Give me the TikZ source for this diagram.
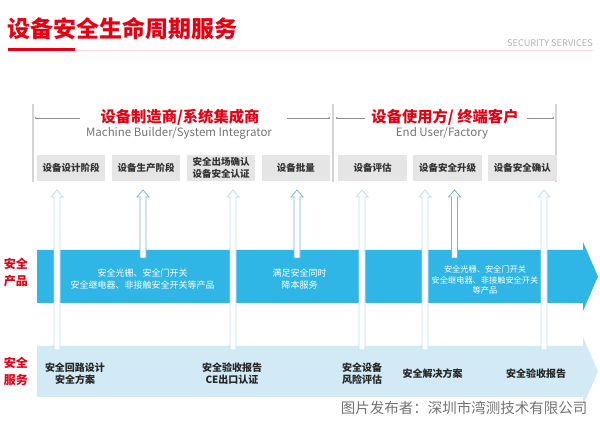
\documentclass[tikz,border=0pt]{standalone}
\usepackage{fontspec}
\setmainfont{Noto Sans CJK SC}
\usetikzlibrary{positioning,calc,arrows.meta}
\definecolor{secred}{HTML}{E60012}
\definecolor{bandblue}{HTML}{2FB6E7}
\definecolor{bandpale}{HTML}{D2EAF6}
\definecolor{boxgray}{HTML}{E5E5E5}
\definecolor{lightarr}{HTML}{BBDFF2}
\definecolor{darkarr}{HTML}{79B5DB}
\newcommand{\hollowup}[3]{\draw[draw=#1, fill=white, line width=0.8pt] let \p1=(#2), \p2=(#3) in
  (\x1-3pt,\y1) -- (\x1-3pt,\y2-7pt) -- (\x1-6pt,\y2-7pt) -- (\x1,\y2) -- (\x1+6pt,\y2-7pt) -- (\x1+3pt,\y2-7pt) -- (\x1+3pt,\y1) -- cycle;}

\begin{document}
\begin{tikzpicture}[
    x=1pt, y=1pt,
    node distance=6.2pt,
    every node/.style={inner sep=0pt, align=center},
    stage/.style={fill=boxgray, minimum width=68.3pt, minimum height=26pt, text=black!80, font=\bfseries\fontsize{9.5}{12}\selectfont},
    bandtext/.style={text=white, font=\fontsize{9}{12}\selectfont},
    servtext/.style={text=black!85, font=\bfseries\fontsize{10}{12}\selectfont},
    rowlabel/.style={text=secred, font=\bfseries\fontsize{12}{17}\selectfont},
    header/.style={text=secred, font=\bfseries\fontsize{15.3}{18}\selectfont},
    subhead/.style={text=black!55, font=\fontsize{11.5}{13}\selectfont},
    divider/.style={draw=black!17, line width=1.2pt},
    headline/.style={draw=black!45, line width=0.5pt}
]
\useasboundingbox (0,0) rectangle (600,422);

\node[text=secred, font=\bfseries\fontsize{23}{26}\selectfont, anchor=west] (title) at (7,393) {设备安全生命周期服务};
\node[text=black!30, font=\fontsize{9.2}{10}\selectfont, anchor=east] (tag) at (593,379) {SECURITY SERVICES};
\draw[draw=secred!15, line width=1pt] (75,371.5) -- (593,371.5);
\fill[secred] (8,371) rectangle (75,374);

\draw[divider] (33,318) -- (33,240);
\draw[divider] (333,318) -- (333,240);
\draw[divider] (556,318) -- (556,240);

\node[header] (maker) at (180,305) {设备制造商/系统集成商};
\node[subhead] (makeren) at (179,289) {Machine Builder/System Integrator};
\node[header] (user) at (445,305) {设备使用方/ 终端客户};
\node[subhead] (useren) at (442,289) {End User/Factory};
\draw[headline, {Circle[length=1.6pt]}-] (35,304) -- (80,304);
\draw[headline, -{Circle[length=1.6pt]}] (287,304) -- (330,304);
\draw[headline, {Circle[length=1.6pt]}-] (336,304) -- (365,304);
\draw[headline, -{Circle[length=1.6pt]}] (527,304) -- (554,304);

\node[stage] (design) at (71.2,254) {设备设计阶段};
\node[stage, right=of design] (produce) {设备生产阶段};
\node[stage, right=of produce] (certify) {安全出场确认\\设备安全认证};
\node[stage, right=of certify] (batch) {设备批量};
\node[stage, right=8pt of batch] (assess) {设备评估};
\node[stage, right=of assess] (upgrade) {设备安全升级};
\node[stage, right=of upgrade] (confirm) {设备安全确认};

\fill[bandblue] (37,172) -- (583,172) -- (583,180) -- (598,145.5) -- (583,111) -- (583,119) -- (37,119) -- cycle;
\fill[bandpale] (37,76) -- (583,76) -- (583,85) -- (598,50.5) -- (583,16) -- (583,25) -- (37,25) -- cycle;

\foreach \ax/\ay/\st [count=\i] in {57/72/lightarr, 143/164/darkarr, 233/72/lightarr, 297/164/darkarr,
    362/72/lightarr, 425/72/lightarr, 454.5/164/darkarr, 544/72/lightarr} {
  \coordinate (b\i) at (\ax,\ay);
  \coordinate (t\i) at (\ax,232);
  \hollowup{\st}{b\i}{t\i}
}

\node[rowlabel] (prodlabel) at (16,150) {安全\\产品};
\node[rowlabel] (servlabel) at (16,51) {安全\\服务};

\node[bandtext] (prod1) at (142.5,143) {安全光栅、安全门开关\\安全继电器、非接触安全开关等产品};
\node[bandtext] (prod2) at (299.5,143) {满足安全同时\\降本服务};
\node[bandtext, font=\fontsize{8.2}{10.5}\selectfont] (prod3) at (485,142) {安全光栅、安全门开关\\安全继电器、非接触安全开关\\等产品};

\node[servtext] (serv1) at (75,48) {安全回路设计\\安全方案};
\node[servtext] (serv2) at (232,48) {安全验收报告\\CE出口认证};
\node[servtext] (serv3) at (362,48) {安全设备\\风险评估};
\node[servtext] (serv4) at (432.5,48) {安全解决方案};
\node[servtext] (serv5) at (536,48) {安全验收报告};

\node[text=black!55, font=\fontsize{14.5}{16}\selectfont] (credit) at (464,14) {图片发布者：深圳市湾测技术有限公司};
\end{tikzpicture}
\end{document}
